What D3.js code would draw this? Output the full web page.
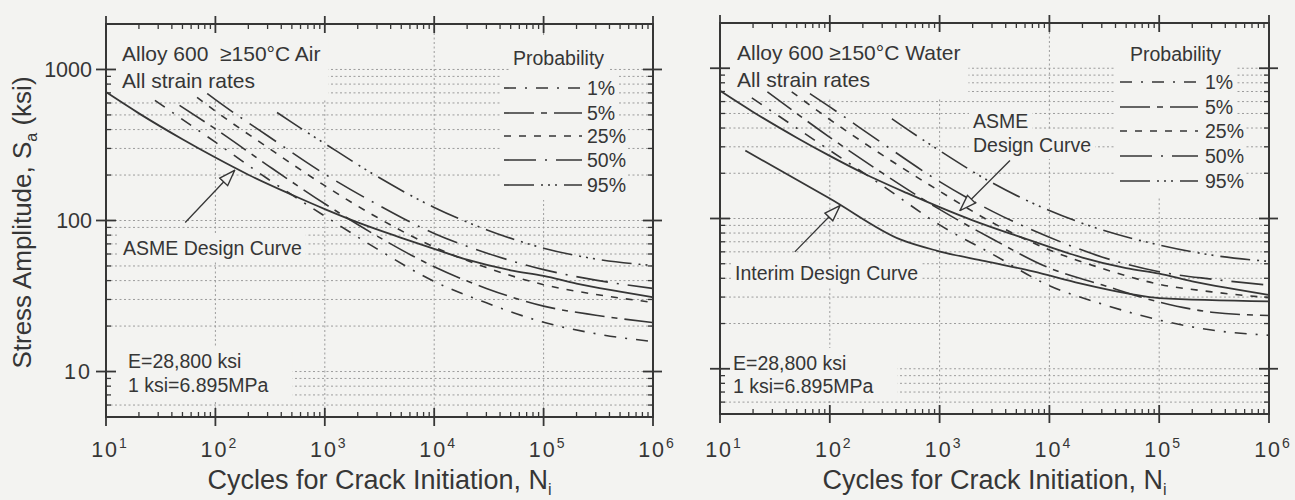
<!DOCTYPE html>
<html>
<head>
  <meta charset="utf-8">
  <title>Alloy 600 fatigue curves</title>
  <style>
    body { margin: 0; background: #f3f3f1; }
    svg { display: block; font-family: "Liberation Sans", Arial, Helvetica, sans-serif; }
    text { white-space: pre; }
  </style>
</head>
<body>
  <svg width="1295" height="500"></svg>
  <script src="https://d3js.org/d3.v7.min.js"></script>
  <script>
    // tick labels
    var xExponents = [1, 2, 3, 4, 5, 6];
    var yLabelValues = [10, 100, 1000];
    var yLabels = ["10", "100", "1000"];
    var probLabels = ["1%", "5%", "25%", "50%", "95%"];

    // ASME design curve, [cycles, ksi]
    var asmeCurve = [[10, 708], [20, 512], [50, 345], [100, 261], [200, 201], [500, 148], [1e3, 119], [2e3, 97.2],
      [5e3, 76.8], [1e4, 64.8], [2e4, 55], [5e4, 46.8], [1e5, 43], [2e5, 38.2], [5e5, 33.8], [1e6, 31]];

    // P-S-N curves in air
    var air01 = [[28, 624], [100, 330], [300, 189], [1e3, 107], [3e3, 64.9], [1e4, 39.5], [3e4, 28.5], [1e5, 21.2], [3e5, 17.8], [1e6, 15.8]];
    var air05 = [[47, 578], [100, 404], [300, 232], [1e3, 129], [3e3, 79], [1e4, 49.4], [3e4, 35.5], [1e5, 27.1], [3e5, 23.6], [1e6, 21.1]];
    var air25 = [[68, 653], [100, 530], [300, 305], [1e3, 170], [3e3, 105], [1e4, 66.7], [3e4, 48.8], [1e5, 37.6], [3e5, 32.4], [1e6, 28.7]];
    var air50 = [[84, 693], [100, 631], [300, 364], [1e3, 203], [3e3, 128], [1e4, 82], [3e4, 61], [1e5, 47.3], [3e5, 40.3], [1e6, 35.5]];
    var air95 = [[366, 519], [500, 446], [1e3, 323], [3e3, 196], [1e4, 122], [3e4, 87], [1e5, 65.6], [3e5, 55.6], [1e6, 50.3]];

    // P-S-N curves in water
    var wat01 = [[19.5, 635], [100, 284], [300, 166], [1e3, 90.7], [3e3, 58.1], [1e4, 35.7], [3e4, 27], [1e5, 21.1], [3e5, 18.1], [1e6, 16.7]];
    var wat05 = [[27, 697], [100, 347], [300, 201], [1e3, 115], [3e3, 73.3], [1e4, 46.8], [3e4, 36.2], [1e5, 27.8], [3e5, 23.8], [1e6, 22.6]];
    var wat25 = [[45, 697], [100, 456], [300, 265], [1e3, 152], [3e3, 94.2], [1e4, 61.8], [3e4, 46.6], [1e5, 36.5], [3e5, 32.5], [1e6, 29.7]];
    var wat50 = [[66, 677], [100, 553], [300, 317], [1e3, 176], [3e3, 112], [1e4, 75], [3e4, 55.5], [1e5, 44.2], [3e5, 39.5], [1e6, 36]];
    var wat95 = [[368, 461], [500, 395], [1e3, 283], [3e3, 173], [1e4, 113], [3e4, 84.1], [1e5, 66.7], [3e5, 57.1], [1e6, 51.8]];

    // interim design curve (water)
    var interimCurve = [[17, 283], [100, 136], [450, 72], [950, 61], [2600, 52], [7100, 44.5], [1.9e4, 37], [5.4e4, 31.5], [1e5, 29.5], [1e6, 28.1]];

    var paper = "#f3f3f1", ink = "#363636", gridInk = "#9c9c9c";
    var dashes = ["12,9,2,9", "30,7,6,7", "7,8", "32,9,2,9", "30,7,2,5,2,5,2,7"];

    var svg = d3.select("svg");
    svg.append("rect").attr("width", 1295).attr("height", 500).attr("fill", paper);

    svg.append("defs").append("marker")
      .attr("id", "arr")
      .attr("viewBox", "0 -7 18 14")
      .attr("refX", 17).attr("refY", 0)
      .attr("markerWidth", 18).attr("markerHeight", 14)
      .attr("markerUnits", "userSpaceOnUse")
      .attr("orient", "auto")
      .append("path")
      .attr("d", "M1,-5.5L17,0L1,5.5Z")
      .attr("fill", paper).attr("stroke", ink).attr("stroke-width", 1.4);

    var panels = [
      {
        x0: 106, x1: 653, y0: 24, y1: 417,
        curves: [air01, air05, air25, air50, air95],
        design: [asmeCurve],
        head: { x: 122, y: [61, 88], lines: ["Alloy 600  \u2265150\u00b0C Air", "All strain rates"] },
        legend: { titleX: 513, titleY: 65, rows: [95, 120, 143, 167, 192], lx0: 504, lx1: 582, labelX: 587 },
        notes: { x: 128, y: [368, 392] },
        labels: [{ x: 123, y: 255, t: "ASME Design Curve" }],
        arrows: [{ tail: [53, 97], tip: [150, 215] }],
        yAxisText: true
      },
      {
        x0: 720, x1: 1269, y0: 23, y1: 414,
        curves: [wat01, wat05, wat25, wat50, wat95],
        design: [asmeCurve, interimCurve],
        head: { x: 737, y: [60, 87], lines: ["Alloy 600 \u2265150\u00b0C Water", "All strain rates"] },
        legend: { titleX: 1130, titleY: 61, rows: [89, 114, 138, 163, 188], lx0: 1120, lx1: 1198, labelX: 1205 },
        notes: { x: 733, y: [370, 393] },
        labels: [{ x: 973, y: 128, t: "ASME" }, { x: 973, y: 152, t: "Design Curve" }, { x: 735, y: 280, t: "Interim Design Curve" }],
        arrows: [{ tail: [4375, 243], tip: [1535, 113] }, { tail: [48, 60], tip: [124, 122] }],
        yAxisText: false
      }
    ];

    function isMajor(v) {
      var l = Math.log10(v);
      return Math.abs(l - Math.round(l)) < 1e-9;
    }

    panels.forEach(function (p) {
      var x = d3.scaleLog().domain([10, 1e6]).range([p.x0, p.x1]);
      var y = d3.scaleLog().domain([5, 2000]).range([p.y1, p.y0]);

      var gGrid = svg.append("g");
      var gMask = svg.append("g");
      var gCurves = svg.append("g");
      var gText = svg.append("g").attr("fill", ink);
      var gAxes = svg.append("g").attr("stroke", ink);

      // dotted grid
      var yGrid = y.ticks().filter(v => v > 5 && v < 2000);
      var xGrid = x.ticks().filter(v => isMajor(v) && v > 10 && v < 1e6);
      gGrid.selectAll(".hg").data(yGrid).join("line")
        .attr("x1", p.x0).attr("x2", p.x1)
        .attr("y1", d => y(d)).attr("y2", d => y(d))
        .attr("stroke", gridInk).attr("stroke-width", 1).attr("stroke-dasharray", "2,2.5");
      gGrid.selectAll(".vg").data(xGrid).join("line")
        .attr("x1", d => x(d)).attr("x2", d => x(d))
        .attr("y1", p.y0).attr("y2", p.y1)
        .attr("stroke", gridInk).attr("stroke-width", 1).attr("stroke-dasharray", "2,2.5");

      // curves
      var line = d3.line().x(d => x(d[0])).y(d => y(d[1])).curve(d3.curveMonotoneX);
      gCurves.selectAll(".psn").data(p.curves).join("path")
        .attr("d", line)
        .attr("fill", "none").attr("stroke", ink).attr("stroke-width", 1.6)
        .attr("stroke-dasharray", (d, i) => dashes[i]);
      gCurves.selectAll(".des").data(p.design).join("path")
        .attr("d", line)
        .attr("fill", "none").attr("stroke", ink).attr("stroke-width", 1.8);

      gCurves.selectAll(".arrow").data(p.arrows).join("line")
        .attr("x1", d => x(d.tail[0])).attr("y1", d => y(d.tail[1]))
        .attr("x2", d => x(d.tip[0])).attr("y2", d => y(d.tip[1]))
        .attr("stroke", ink).attr("stroke-width", 1.3)
        .attr("marker-end", "url(#arr)");

      // texts
      var blocks = [];
      var head = gText.append("g").attr("font-size", 21);
      p.head.lines.forEach(function (t, i) {
        head.append("text").attr("x", p.head.x).attr("y", p.head.y[i]).text(t);
      });
      blocks.push({ node: head, pad: [16, 8, 6, 4], left: p.x0 + 2 });

      var notes = gText.append("g").attr("font-size", 19.5);
      notes.append("text").attr("x", p.notes.x).attr("y", p.notes.y[0]).text("E=28,800 ksi");
      notes.append("text").attr("x", p.notes.x).attr("y", p.notes.y[1]).text("1 ksi=6.895MPa");
      blocks.push({ node: notes, pad: [4, 24, 4, 10], left: p.x0 + 2 });

      p.labels.forEach(function (l) {
        var g = gText.append("g").attr("font-size", 19.5);
        g.append("text").attr("x", l.x).attr("y", l.y).text(l.t);
        blocks.push({ node: g, pad: [3, 4, 3, 4] });
      });

      // legend
      var lg = p.legend;
      var lt = gText.append("g").attr("font-size", 19.5);
      lt.append("text").attr("x", lg.titleX).attr("y", lg.titleY).text("Probability");
      blocks.push({ node: lt, pad: [12, 4, 4, 4] });
      probLabels.forEach(function (lab, i) {
        var row = gText.append("g").attr("font-size", 19.5);
        row.append("text").attr("x", lg.labelX).attr("y", lg.rows[i]).text(lab);
        gCurves.append("line")
          .attr("x1", lg.lx0).attr("x2", lg.lx1)
          .attr("y1", lg.rows[i] - 7).attr("y2", lg.rows[i] - 7)
          .attr("stroke", ink).attr("stroke-width", 1.6)
          .attr("stroke-dasharray", dashes[i]);
        blocks.push({ node: row, pad: [4, 2, 4, 2], left: lg.lx0 - 4 });
      });

      // paper-coloured boxes behind the texts hide the grid there
      blocks.forEach(function (b) {
        var bb = b.node.node().getBBox();
        var left = b.left !== undefined ? Math.min(b.left, bb.x - b.pad[3]) : bb.x - b.pad[3];
        gMask.append("rect")
          .attr("x", left).attr("y", bb.y - b.pad[0])
          .attr("width", bb.x + bb.width + b.pad[1] - left)
          .attr("height", bb.height + b.pad[0] + b.pad[2])
          .attr("fill", paper);
      });

      // frame
      gAxes.append("rect")
        .attr("x", p.x0).attr("y", p.y0)
        .attr("width", p.x1 - p.x0).attr("height", p.y1 - p.y0)
        .attr("fill", "none").attr("stroke-width", 2);

      var xt = x.ticks(), yt = y.ticks();
      // bottom & top ticks
      gAxes.selectAll(".xb").data(xt).join("line")
        .attr("x1", d => x(d)).attr("x2", d => x(d))
        .attr("y1", d => p.y1 - (isMajor(d) ? 9 : 5)).attr("y2", d => p.y1 + (isMajor(d) ? 9 : 0))
        .attr("stroke-width", d => isMajor(d) ? 1.8 : 1.3);
      gAxes.selectAll(".xt").data(xt).join("line")
        .attr("x1", d => x(d)).attr("x2", d => x(d))
        .attr("y1", d => p.y0 + (isMajor(d) ? 9 : 5)).attr("y2", d => p.y0 - (isMajor(d) ? 8 : 0))
        .attr("stroke-width", d => isMajor(d) ? 1.8 : 1.3);
      // left & right ticks
      gAxes.selectAll(".yl").data(yt).join("line")
        .attr("y1", d => y(d)).attr("y2", d => y(d))
        .attr("x1", d => p.x0 - (isMajor(d) ? 10 : 0)).attr("x2", d => p.x0 + (isMajor(d) ? 10 : 5))
        .attr("stroke-width", d => isMajor(d) ? 1.8 : 1.3);
      gAxes.selectAll(".yr").data(yt).join("line")
        .attr("y1", d => y(d)).attr("y2", d => y(d))
        .attr("x1", d => p.x1 + (isMajor(d) ? 9 : 0)).attr("x2", d => p.x1 - (isMajor(d) ? 10 : 5))
        .attr("stroke-width", d => isMajor(d) ? 1.8 : 1.3);

      // x tick labels
      gText.selectAll(".xl").data(xExponents).join("text")
        .attr("x", d => x(Math.pow(10, d)) + 3)
        .attr("y", 457)
        .attr("font-size", 21.5)
        .attr("text-anchor", "middle")
        .each(function (d) {
          var t = d3.select(this);
          t.append("tspan").attr("letter-spacing", 2).text("10");
          t.append("tspan").attr("font-size", 14).attr("dy", -9).text(d);
        });

      // x title
      var xt2 = gText.append("text")
        .attr("x", (p.x0 + p.x1) / 2).attr("y", 489)
        .attr("font-size", 27).attr("text-anchor", "middle");
      xt2.append("tspan").text("Cycles for Crack Initiation, N");
      xt2.append("tspan").attr("font-size", 16).attr("dy", 6).text("i");

      if (p.yAxisText) {
        gText.selectAll(".yl").data(yLabelValues).join("text")
          .attr("x", p.x0 - 14)
          .attr("y", d => y(d) + 7.5)
          .attr("font-size", 21.5)
          .attr("text-anchor", "end")
          .attr("letter-spacing", (d, i) => i === 0 ? 2 : 0)
          .text((d, i) => yLabels[i]);

        var yt2 = gText.append("text")
          .attr("transform", "translate(31," + ((p.y0 + p.y1) / 2 + 2) + ") rotate(-90)")
          .attr("font-size", 26).attr("text-anchor", "middle");
        yt2.append("tspan").text("Stress Amplitude, S");
        yt2.append("tspan").attr("font-size", 16).attr("dy", 6).text("a");
        yt2.append("tspan").attr("dy", -6).text(" (ksi)");
      }
    });
  </script>
</body>
</html>
